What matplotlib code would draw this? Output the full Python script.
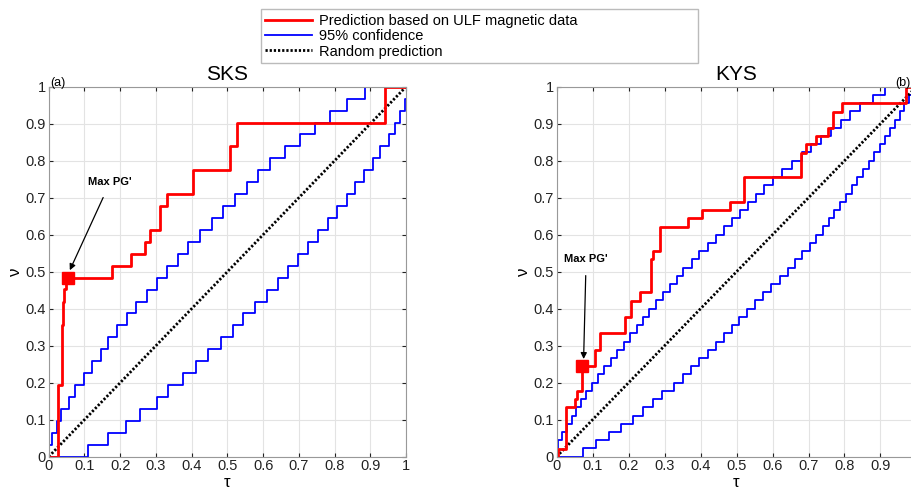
import numpy as np
import matplotlib
matplotlib.use("Agg")
import matplotlib.pyplot as plt

plt.rcParams['font.family'] = ['Liberation Sans', 'DejaVu Sans']

# ---------------- dados ----------------

# SKS: 31 eventos -> niveis k/31
sks_n = 31
sks_upper_tau = [0.002, 0.009, 0.022, 0.035, 0.056, 0.074, 0.098, 0.122, 0.145, 0.167,
                 0.192, 0.218, 0.244, 0.274, 0.302, 0.332, 0.363, 0.391, 0.424, 0.456,
                 0.489, 0.521, 0.554, 0.587, 0.619, 0.661, 0.703, 0.745, 0.787, 0.834,
                 0.885]
sks_lower_tau = [0.111, 0.167, 0.216, 0.256, 0.302, 0.335, 0.377, 0.412, 0.447, 0.482,
                 0.515, 0.545, 0.577, 0.610, 0.643, 0.670, 0.699, 0.727, 0.755, 0.783,
                 0.808, 0.834, 0.857, 0.883, 0.907, 0.927, 0.951, 0.969, 0.983, 0.997]
sks_pred_tau = [0.0, 0.027, 0.036, 0.037, 0.038, 0.040, 0.043, 0.047, 0.176, 0.230,
                0.270, 0.284, 0.312, 0.330, 0.405, 0.506, 0.526, 0.940]
sks_pred_v = [0.0, 0.194, 0.226, 0.290, 0.355, 0.419, 0.452, 0.484, 0.516, 0.548,
              0.581, 0.613, 0.677, 0.710, 0.774, 0.839, 0.903, 1.0]
sks_max = (0.055, 0.484)

# KYS: 45 eventos -> niveis k/45
kys_n = 45
kys_upper_tau = [0.0, 0.003, 0.015, 0.028, 0.042, 0.055, 0.069, 0.083, 0.097, 0.115,
                 0.133, 0.151, 0.169, 0.187, 0.205, 0.222, 0.240, 0.258, 0.277, 0.296,
                 0.315, 0.334, 0.352, 0.375, 0.397, 0.420, 0.442, 0.465, 0.487, 0.510,
                 0.532, 0.555, 0.577, 0.600, 0.627, 0.654, 0.681, 0.708, 0.735, 0.762,
                 0.789, 0.816, 0.843, 0.878, 0.912]
kys_lower_tau = [0.074, 0.110, 0.145, 0.180, 0.213, 0.240, 0.267, 0.293, 0.325, 0.350,
                 0.373, 0.396, 0.420, 0.444, 0.465, 0.486, 0.507, 0.528, 0.551, 0.574,
                 0.597, 0.620, 0.643, 0.663, 0.683, 0.703, 0.722, 0.739, 0.756, 0.772,
                 0.788, 0.804, 0.820, 0.836, 0.852, 0.868, 0.883, 0.898, 0.913, 0.927,
                 0.940, 0.953, 0.966, 0.980]
kys_pred_tau = [0.0, 0.004, 0.026, 0.050, 0.058, 0.071, 0.106, 0.120, 0.190, 0.208,
                0.232, 0.262, 0.268, 0.287, 0.366, 0.403, 0.481, 0.520, 0.678, 0.694,
                0.722, 0.755, 0.767, 0.792, 0.972]
kys_pred_v = [0.0, 0.022, 0.133, 0.156, 0.178, 0.244, 0.289, 0.333, 0.378, 0.422,
              0.444, 0.533, 0.556, 0.622, 0.644, 0.667, 0.689, 0.756, 0.822, 0.844,
              0.867, 0.889, 0.933, 0.956, 1.0]
kys_max = (0.071, 0.244)

ticks = [0, 0.1, 0.2, 0.3, 0.4, 0.5, 0.6, 0.7, 0.8, 0.9, 1]
tick_labels = ['0', '0.1', '0.2', '0.3', '0.4', '0.5', '0.6', '0.7', '0.8', '0.9', '1']


def escada(taus, n):
    """
    Monta a curva em escada de um limite de confianca.
    """

    x = [0.0] + list(taus) + [1.0]
    y = [0.0] + [(k + 1) / n for k in range(len(taus))]
    y = y + [y[-1]]
    return x, y


def painel(ax, titulo, upper, lower, n, pred_tau, pred_v, maxpg, txt_pos, letra, letra_pos, xlabels):
    ax.grid(True, color='#e3e3e3', linewidth=0.8)
    ax.set_axisbelow(True)

    xu, yu = escada(upper, n)
    xl, yl = escada(lower, n)
    ax.step(xu, yu, where='post', color='#0000ff', linewidth=1.3, label='95% confidence')
    ax.step(xl, yl, where='post', color='#0000ff', linewidth=1.3)
    ax.plot([0, 1], [0, 1], color='black', linestyle=(0, (0.8, 0.7)), linewidth=2.0,
            label='Random prediction')
    ax.step(list(pred_tau) + [1.0], list(pred_v) + [pred_v[-1]], where='post',
            color='#ff0000', linewidth=2.0, label='Prediction based on ULF magnetic data')
    ax.plot([maxpg[0]], [maxpg[1]], 's', color='#ff0000', markersize=8)

    ax.annotate("Max PG'", xy=(maxpg[0] + 0.004, maxpg[1] + 0.02), xytext=txt_pos,
                fontsize=8, fontweight='bold', ha='center', va='center',
                arrowprops=dict(arrowstyle='-|>', color='black', lw=0.9,
                                shrinkA=6, shrinkB=0, mutation_scale=9))
    ax.text(letra_pos[0], letra_pos[1], letra, transform=ax.transAxes, fontsize=9,
            va='bottom', ha='left')

    ax.set_xlim(0, 1)
    ax.set_ylim(0, 1)
    ax.set_xticks(ticks)
    ax.set_xticklabels(xlabels)
    ax.set_yticks(ticks)
    ax.set_yticklabels(tick_labels)
    ax.tick_params(direction='in', length=3, labelsize=10.5, top=True, right=True, pad=2,
                   colors='#222222')
    for s in ax.spines.values():
        s.set_color('#999999')
        s.set_linewidth(0.8)
    ax.set_title(titulo, fontsize=15, pad=5)
    ax.set_xlabel('τ', fontsize=12, labelpad=1)
    ax.set_ylabel('ν', fontsize=12, labelpad=2)


fig = plt.figure(figsize=(9.11, 4.9), dpi=100)
ax1 = fig.add_axes([0.0535, 0.068, 0.3922, 0.755])
ax2 = fig.add_axes([0.611, 0.068, 0.395, 0.755])

painel(ax1, 'SKS', sks_upper_tau, sks_lower_tau, sks_n, sks_pred_tau, sks_pred_v,
       sks_max, (0.172, 0.742), '(a)', (0.003, 0.995), tick_labels)
# o painel da direita fica cortado pela borda da figura: o "1" do eixo x nao aparece
painel(ax2, 'KYS', kys_upper_tau, kys_lower_tau, kys_n, kys_pred_tau, kys_pred_v,
       kys_max, (0.082, 0.533), '(b)', (0.94, 0.995), tick_labels[:-1] + [''])

# legenda comum no topo
h, l = ax1.get_legend_handles_labels()
ordem = [2, 0, 1]
fig.legend([h[i] for i in ordem], [l[i] for i in ordem], loc='upper left',
           bbox_to_anchor=(0.286, 0.981, 0.48, 0.0), mode='expand', fontsize=10.5,
           fancybox=False, edgecolor='#bbbbbb', framealpha=1, borderpad=0.3,
           labelspacing=0.1, handlelength=3.2, handletextpad=0.5, borderaxespad=0)

plt.savefig('out.png', dpi=100)
